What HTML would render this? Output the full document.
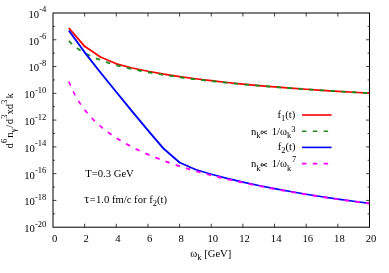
<!DOCTYPE html>
<html><head><meta charset="utf-8"><title>plot</title>
<style>
html,body{margin:0;padding:0;background:#fff}
svg{display:block;will-change:transform}
text{font-family:"Liberation Serif",serif;font-size:10.67px;fill:#000}
.s{font-size:8.53px}
</style></head><body>
<svg width="389" height="273" viewBox="0 0 389 273">
<rect width="389" height="273" fill="#fff"/>
<path d="M84.65,227.20 v-3.5 M84.65,13.00 v3.5 M116.30,227.20 v-3.5 M116.30,13.00 v3.5 M147.95,227.20 v-3.5 M147.95,13.00 v3.5 M179.60,227.20 v-3.5 M179.60,13.00 v3.5 M211.25,227.20 v-3.5 M211.25,13.00 v3.5 M242.90,227.20 v-3.5 M242.90,13.00 v3.5 M274.55,227.20 v-3.5 M274.55,13.00 v3.5 M306.20,227.20 v-3.5 M306.20,13.00 v3.5 M337.85,227.20 v-3.5 M337.85,13.00 v3.5 M53.00,26.39 h1.9 M369.50,26.39 h-1.9 M53.00,39.77 h3.4 M369.50,39.77 h-3.4 M53.00,53.16 h1.9 M369.50,53.16 h-1.9 M53.00,66.55 h3.4 M369.50,66.55 h-3.4 M53.00,79.94 h1.9 M369.50,79.94 h-1.9 M53.00,93.32 h3.4 M369.50,93.32 h-3.4 M53.00,106.71 h1.9 M369.50,106.71 h-1.9 M53.00,120.10 h3.4 M369.50,120.10 h-3.4 M53.00,133.49 h1.9 M369.50,133.49 h-1.9 M53.00,146.88 h3.4 M369.50,146.88 h-3.4 M53.00,160.26 h1.9 M369.50,160.26 h-1.9 M53.00,173.65 h3.4 M369.50,173.65 h-3.4 M53.00,187.04 h1.9 M369.50,187.04 h-1.9 M53.00,200.42 h3.4 M369.50,200.42 h-3.4 M53.00,213.81 h1.9 M369.50,213.81 h-1.9" fill="none" stroke="#000" stroke-width="0.75"/>
<g fill="none" stroke-linejoin="round" stroke-linecap="butt" stroke-width="1.6">
<path d="M68.83,28.00 L84.65,46.30" stroke="#ff0000" stroke-width="1.91"/>
<path d="M84.65,46.30 L100.47,57.00" stroke="#ff0000" stroke-width="1.78"/>
<circle cx="84.65" cy="46.30" r="0.89" fill="#ff0000" stroke="none"/>
<path d="M100.47,57.00 L116.30,63.84" stroke="#ff0000" stroke-width="1.70"/>
<circle cx="100.47" cy="57.00" r="0.85" fill="#ff0000" stroke="none"/>
<path d="M116.30,63.84 L132.12,67.94 L147.95,71.29 L163.78,74.13 L179.60,76.58 L195.43,78.73 L211.25,80.65 L227.07,82.52 L242.90,84.15 L258.73,85.60 L274.55,86.92 L290.38,88.13 L306.20,89.27 L322.02,90.33 L337.85,91.33 L353.68,92.27 L369.50,93.17" stroke="#ff0000" stroke-width="1.65"/>
<circle cx="116.30" cy="63.84" r="0.83" fill="#ff0000" stroke="none"/>
<path d="M68.83,40.91 L70.70,42.87 L72.58,44.63 L74.46,46.23" stroke="#228b22" stroke-width="1.79" stroke-dasharray="4.5 6.3" stroke-dashoffset="0.00"/>
<path d="M74.46,46.23 L76.34,47.69 L78.22,49.04 L80.10,50.30 L81.98,51.47 L83.86,52.56" stroke="#228b22" stroke-width="1.85" stroke-dasharray="4.5 6.3" stroke-dashoffset="7.75"/>
<path d="M83.86,52.56 L85.74,53.59 L87.62,54.57 L89.50,55.49 L91.38,56.36 L93.25,57.20 L95.13,57.99 L97.01,58.75 L98.89,59.48 L100.77,60.18 L102.65,60.86 L104.53,61.50 L106.41,62.13 L108.29,62.73" stroke="#228b22" stroke-width="1.90" stroke-dasharray="4.5 6.3" stroke-dashoffset="19.10"/>
<path d="M108.29,62.73 L110.17,63.32 L112.05,63.88 L113.93,64.43 L115.81,64.96 L117.68,65.47 L119.56,65.97 L121.44,66.46 L123.32,66.93 L125.20,67.39 L127.08,67.84 L128.96,68.27 L130.84,68.70 L132.72,69.12 L134.60,69.52 L136.48,69.92 L138.36,70.31 L140.24,70.69 L142.11,71.06 L143.99,71.42 L145.87,71.78 L147.75,72.13 L149.63,72.47 L151.51,72.81 L153.39,73.14 L155.27,73.46 L157.15,73.78 L159.03,74.09 L160.91,74.40 L162.79,74.70 L164.67,74.99 L166.54,75.28 L168.42,75.57 L170.30,75.85 L172.18,76.13 L174.06,76.40 L175.94,76.67 L177.82,76.94 L179.70,77.20 L181.58,77.45 L183.46,77.71 L185.34,77.96 L187.22,78.20 L189.09,78.44 L190.97,78.68 L192.85,78.92 L194.73,79.15 L196.61,79.38 L198.49,79.61 L200.37,79.83 L202.25,80.05 L204.13,80.27 L206.01,80.49 L207.89,80.70 L209.77,80.91 L211.65,81.12 L213.52,81.32 L215.40,81.53 L217.28,81.73 L219.16,81.93 L221.04,82.12 L222.92,82.32 L224.80,82.51 L226.68,82.70 L228.56,82.89 L230.44,83.07 L232.32,83.26 L234.20,83.44 L236.08,83.62 L237.95,83.80 L239.83,83.97 L241.71,84.15 L243.59,84.32 L245.47,84.49 L247.35,84.66 L249.23,84.83 L251.11,84.99 L252.99,85.16 L254.87,85.32 L256.75,85.48 L258.63,85.64 L260.51,85.80 L262.38,85.96 L264.26,86.12 L266.14,86.27 L268.02,86.42 L269.90,86.57 L271.78,86.72 L273.66,86.87 L275.54,87.02 L277.42,87.17 L279.30,87.31 L281.18,87.46 L283.06,87.60 L284.94,87.74 L286.81,87.88 L288.69,88.02 L290.57,88.16 L292.45,88.30 L294.33,88.44 L296.21,88.57 L298.09,88.71 L299.97,88.84 L301.85,88.97 L303.73,89.10 L305.61,89.23 L307.49,89.36 L309.37,89.49 L311.24,89.62 L313.12,89.74 L315.00,89.87 L316.88,89.99 L318.76,90.12 L320.64,90.24 L322.52,90.36 L324.40,90.48 L326.28,90.60 L328.16,90.72 L330.04,90.84 L331.92,90.96 L333.79,91.08 L335.67,91.19 L337.55,91.31 L339.43,91.42 L341.31,91.54 L343.19,91.65 L345.07,91.76 L346.95,91.88 L348.83,91.99 L350.71,92.10 L352.59,92.21 L354.47,92.32 L356.35,92.43 L358.22,92.53 L360.10,92.64 L361.98,92.75 L363.86,92.85 L365.74,92.96 L367.62,93.06 L369.50,93.17" stroke="#228b22" stroke-width="1.95" stroke-dasharray="4.5 6.3" stroke-dashoffset="45.61"/>
<path d="M68.83,30.50 L84.65,52.30 L100.47,72.50 L116.30,92.00 L132.12,111.30 L147.95,130.30 L163.78,148.80" stroke="#0000ff" stroke-width="1.95"/>
<path d="M163.78,148.80 L179.60,162.50" stroke="#0000ff" stroke-width="1.84"/>
<circle cx="163.78" cy="148.80" r="0.92" fill="#0000ff" stroke="none"/>
<path d="M179.60,162.50 L195.43,169.50" stroke="#0000ff" stroke-width="1.71"/>
<circle cx="179.60" cy="162.50" r="0.85" fill="#0000ff" stroke="none"/>
<path d="M195.43,169.50 L211.25,174.20 L227.07,178.34 L242.90,182.08 L258.73,185.49 L274.55,188.62 L290.38,191.51 L306.20,194.20 L322.02,196.71 L337.85,199.07 L353.68,201.30 L369.50,203.41" stroke="#0000ff" stroke-width="1.66"/>
<circle cx="195.43" cy="169.50" r="0.83" fill="#0000ff" stroke="none"/>
<path d="M68.83,81.54 L70.70,86.11 L72.58,90.22 L74.46,93.95 L76.34,97.36" stroke="#ff00ff" stroke-width="1.58" stroke-dasharray="4.5 6.3" stroke-dashoffset="0.00"/>
<path d="M76.34,97.36 L78.22,100.51 L80.10,103.44 L81.98,106.17 L83.86,108.72" stroke="#ff00ff" stroke-width="1.64" stroke-dasharray="4.5 6.3" stroke-dashoffset="17.53"/>
<path d="M83.86,108.72 L85.74,111.13 L87.62,113.40 L89.50,115.55 L91.38,117.60" stroke="#ff00ff" stroke-width="1.70" stroke-dasharray="4.5 6.3" stroke-dashoffset="31.16"/>
<path d="M91.38,117.60 L93.25,119.54 L95.13,121.40 L97.01,123.17 L98.89,124.88 L100.77,126.51" stroke="#ff00ff" stroke-width="1.75" stroke-dasharray="4.5 6.3" stroke-dashoffset="42.79"/>
<path d="M100.77,126.51 L102.65,128.08 L104.53,129.59 L106.41,131.05 L108.29,132.46 L110.17,133.82 L112.05,135.13 L113.93,136.41 L115.81,137.65" stroke="#ff00ff" stroke-width="1.80" stroke-dasharray="4.5 6.3" stroke-dashoffset="55.75"/>
<path d="M115.81,137.65 L117.68,138.85 L119.56,140.01 L121.44,141.14 L123.32,142.25 L125.20,143.32 L127.08,144.37 L128.96,145.38 L130.84,146.38 L132.72,147.35 L134.60,148.30 L136.48,149.23 L138.36,150.13 L140.24,151.02" stroke="#ff00ff" stroke-width="1.85" stroke-dasharray="4.5 6.3" stroke-dashoffset="74.47"/>
<path d="M140.24,151.02 L142.11,151.89 L143.99,152.73 L145.87,153.57 L147.75,154.38 L149.63,155.18 L151.51,155.96 L153.39,156.73 L155.27,157.49 L157.15,158.23 L159.03,158.96 L160.91,159.67 L162.79,160.38 L164.67,161.07 L166.54,161.75 L168.42,162.41 L170.30,163.07 L172.18,163.72 L174.06,164.35 L175.94,164.98 L177.82,165.60 L179.70,166.21 L181.58,166.81 L183.46,167.40 L185.34,167.98 L187.22,168.55 L189.09,169.12 L190.97,169.68 L192.85,170.23 L194.73,170.77 L196.61,171.31 L198.49,171.84 L200.37,172.36 L202.25,172.87 L204.13,173.38 L206.01,173.89 L207.89,174.38 L209.77,174.87 L211.65,175.36 L213.52,175.84" stroke="#ff00ff" stroke-width="1.90" stroke-dasharray="4.5 6.3" stroke-dashoffset="102.35"/>
<path d="M213.52,175.84 L215.40,176.31 L217.28,176.78 L219.16,177.24 L221.04,177.70 L222.92,178.15 L224.80,178.60 L226.68,179.04 L228.56,179.48 L230.44,179.91 L232.32,180.34 L234.20,180.77 L236.08,181.19 L237.95,181.60 L239.83,182.01 L241.71,182.42 L243.59,182.82 L245.47,183.22 L247.35,183.62 L249.23,184.01 L251.11,184.40 L252.99,184.78 L254.87,185.16 L256.75,185.54 L258.63,185.91 L260.51,186.29 L262.38,186.65 L264.26,187.02 L266.14,187.38 L268.02,187.73 L269.90,188.09 L271.78,188.44 L273.66,188.79 L275.54,189.13 L277.42,189.47 L279.30,189.81 L281.18,190.15 L283.06,190.48 L284.94,190.81 L286.81,191.14 L288.69,191.47 L290.57,191.79 L292.45,192.11 L294.33,192.43 L296.21,192.75 L298.09,193.06 L299.97,193.37 L301.85,193.68 L303.73,193.99 L305.61,194.29 L307.49,194.59 L309.37,194.89 L311.24,195.19 L313.12,195.48 L315.00,195.78 L316.88,196.07 L318.76,196.36 L320.64,196.64 L322.52,196.93 L324.40,197.21 L326.28,197.49 L328.16,197.77 L330.04,198.05 L331.92,198.32 L333.79,198.60 L335.67,198.87 L337.55,199.14 L339.43,199.40 L341.31,199.67 L343.19,199.93 L345.07,200.20 L346.95,200.46 L348.83,200.72 L350.71,200.98 L352.59,201.23 L354.47,201.49 L356.35,201.74 L358.22,201.99 L360.10,202.24 L361.98,202.49 L363.86,202.74 L365.74,202.98 L367.62,203.22 L369.50,203.47" stroke="#ff00ff" stroke-width="1.95" stroke-dasharray="4.5 6.3" stroke-dashoffset="179.84"/>
<path d="M302.0,115.0 H331.6" stroke="#ff0000"/>
<path d="M302.0,131.2 H331.6" stroke="#228b22" stroke-dasharray="4.5 6.3"/>
<path d="M302.0,147.4 H331.6" stroke="#0000ff"/>
<path d="M302.0,163.6 H331.6" stroke="#ff00ff" stroke-dasharray="4.5 6.3"/>
</g>
<g fill="none" stroke="#000" stroke-width="1">
<rect x="53.0" y="13.0" width="316.5" height="214.2"/>
</g>
<text x="54.60" y="242.0" text-anchor="middle">0</text>
<text x="86.25" y="242.0" text-anchor="middle">2</text>
<text x="117.90" y="242.0" text-anchor="middle">4</text>
<text x="149.55" y="242.0" text-anchor="middle">6</text>
<text x="181.20" y="242.0" text-anchor="middle">8</text>
<text x="212.85" y="242.0" text-anchor="middle">10</text>
<text x="244.50" y="242.0" text-anchor="middle">12</text>
<text x="276.15" y="242.0" text-anchor="middle">14</text>
<text x="307.80" y="242.0" text-anchor="middle">16</text>
<text x="339.45" y="242.0" text-anchor="middle">18</text>
<text x="371.10" y="242.0" text-anchor="middle">20</text>
<text x="46.25" y="17.90" text-anchor="end">10<tspan class="s" dy="-5.5">-4</tspan></text>
<text x="46.25" y="44.67" text-anchor="end">10<tspan class="s" dy="-5.5">-6</tspan></text>
<text x="46.25" y="71.45" text-anchor="end">10<tspan class="s" dy="-5.5">-8</tspan></text>
<text x="46.25" y="98.22" text-anchor="end">10<tspan class="s" dy="-5.5">-10</tspan></text>
<text x="46.25" y="125.00" text-anchor="end">10<tspan class="s" dy="-5.5">-12</tspan></text>
<text x="46.25" y="151.78" text-anchor="end">10<tspan class="s" dy="-5.5">-14</tspan></text>
<text x="46.25" y="178.55" text-anchor="end">10<tspan class="s" dy="-5.5">-16</tspan></text>
<text x="46.25" y="205.32" text-anchor="end">10<tspan class="s" dy="-5.5">-18</tspan></text>
<text x="46.25" y="232.10" text-anchor="end">10<tspan class="s" dy="-5.5">-20</tspan></text>
<text x="190.2" y="256.8">ω<tspan class="s" dy="3.4">k</tspan><tspan dy="-3.4"> [GeV]</tspan></text>
<text transform="translate(12.6,148.0) rotate(-90)"><tspan x="-0.38" y="0.00">d</tspan><tspan class="s" x="4.93" y="-5.50">6</tspan><tspan x="10.35" y="0.00">n</tspan><tspan class="s" x="15.71" y="3.30">γ</tspan><tspan x="20.20" y="0.00">/</tspan><tspan x="23.72" y="0.00">d</tspan><tspan class="s" x="29.19" y="-5.50">3</tspan><tspan x="33.50" y="0.00">x</tspan><tspan x="38.82" y="0.00">d</tspan><tspan class="s" x="43.99" y="-5.50">3</tspan><tspan x="49.40" y="0.00">k</tspan></text>
<text x="85.2" y="177.1">T=0.3 GeV</text>
<text x="84.2" y="202.9"><tspan style="font-size:12.2px">τ</tspan><tspan x="89.4">=</tspan><tspan x="95.92">1.0 fm/c for f</tspan><tspan class="s" dy="3.3">2</tspan><tspan dy="-3.3">(t)</tspan></text>
<text x="295.3" y="117.50" text-anchor="end">f<tspan class="s" dy="3.3">1</tspan><tspan dy="-3.3">(t)</tspan></text>
<text y="134.70"><tspan x="250.95">n</tspan><tspan class="s" dy="3.3">k</tspan><tspan x="271.66" dy="-3.3">1/ω</tspan><tspan class="s" dy="3.3">k</tspan><tspan class="s" dy="-5.6">3</tspan></text><path d="M266.90,131.00 C265.57,131.00 264.54,131.72 263.65,132.45 C262.92,133.32 262.33,133.90 261.83,133.90 C260.76,133.90 260.76,131.00 261.83,131.00 C262.92,131.00 264.83,133.90 266.90,133.90" fill="none" stroke="#000" stroke-width="0.9"/>
<text x="295.6" y="149.75" text-anchor="end">f<tspan class="s" dy="3.3">2</tspan><tspan dy="-3.3">(t)</tspan></text>
<text y="167.20"><tspan x="250.95">n</tspan><tspan class="s" dy="3.3">k</tspan><tspan x="271.66" dy="-3.3">1/ω</tspan><tspan class="s" dy="3.3">k</tspan><tspan class="s" x="291.95" dy="-8.6">7</tspan></text><path d="M266.90,163.50 C265.57,163.50 264.54,164.22 263.65,164.95 C262.92,165.82 262.33,166.40 261.83,166.40 C260.76,166.40 260.76,163.50 261.83,163.50 C262.92,163.50 264.83,166.40 266.90,166.40" fill="none" stroke="#000" stroke-width="0.9"/>
</svg></body></html>
